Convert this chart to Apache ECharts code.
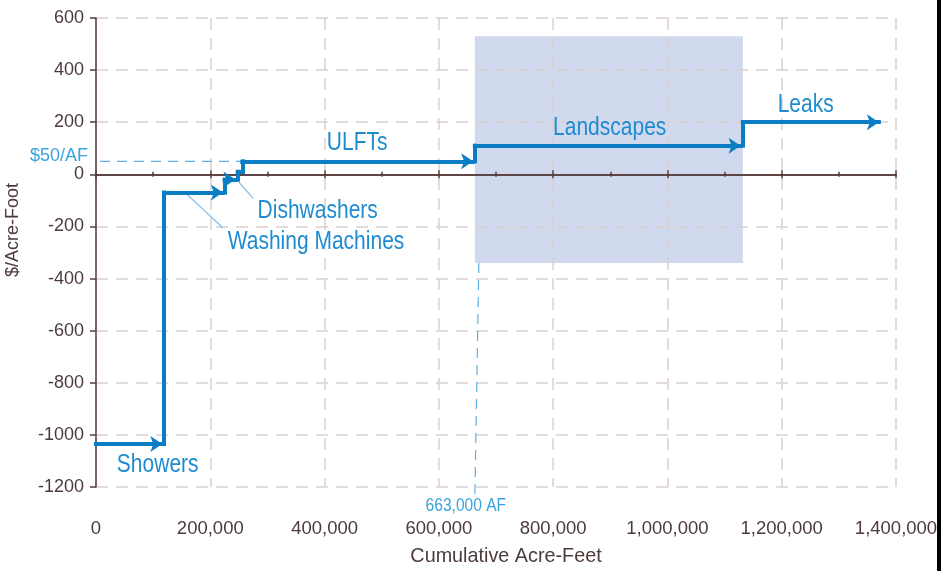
<!DOCTYPE html>
<html><head><meta charset="utf-8">
<script src="https://cdn.jsdelivr.net/npm/echarts@6/dist/echarts.min.js"></script>
<style>html,body{margin:0;padding:0;background:#fff}#c{width:941px;height:571px}</style>
</head><body><div id="c"></div>
<script>
// ---- data ----
const categories = ['Showers', 'Washing Machines', 'Dishwashers', '', 'ULFTs', 'Landscapes', 'Leaks'];
const riseX = [0, 119000, 225000, 248000, 256000, 663000, 1132000];   // cumulative AF where block starts
const endX = [116000, 222000, 244000, 256000, 660000, 1128000, 1370000]; // cumulative AF where block ends
const costs = [-1035, -70, -20, 10, 50, 110, 200];                   // $/acre-foot
const hasArrow = [true, true, true, false, true, true, true];
const xTickValues = [0, 200000, 400000, 600000, 800000, 1000000, 1200000, 1400000];
const yTickValues = [-1200, -1000, -800, -600, -400, -200, 0, 200, 400, 600];
const shadeX = [663000, 1132000];
const shadeY = [-340, 530];
const targetCost = 50;      // $50/AF
const targetAF = 663000;    // 663,000 AF
// annotation anchors (data units)
const labelX = [108000, 385000, 388000, null, 457000, 899000, 1242000];
const labelY = [-1117, -261, -142, null, 119, 176, 265];
const leaderLines = [[156000, -70, 222000, -205], [247000, -22, 275000, -92]];

// ---- styles ----
const AXIS = '#553c3c';
const TXT = '#4d3b3b';
const GRID = '#dacfcf';
const LINE = '#0b7dc4';
const LBL = '#1f8bd0';
const REF = '#5fb0e6';
const SANS = '"Liberation Sans", Arial, sans-serif';

const segData = [];
for (let i = 0; i < categories.length; i++) {
  if (i > 0) segData.push({ coords: [[riseX[i], costs[i - 1]], [riseX[i], costs[i]]], symbol: ['none', 'none'] });
  segData.push({ coords: [[riseX[i], costs[i]], [endX[i], costs[i]]], symbol: ['none', hasArrow[i] ? 'arrow' : 'none'] });
}

const xMin = xTickValues[0], xMax = xTickValues[xTickValues.length - 1];
const yMin = yTickValues[0], yMax = yTickValues[yTickValues.length - 1];
const yBelow = yMin - 32; // reference line extends a little below axis

const chart = echarts.init(document.getElementById('c'));
const baseX = { type: 'value', min: xMin, max: xMax, position: 'bottom' };
chart.setOption({
  animation: false,
  grid: { left: 96, right: 45, top: 18, bottom: 84, containLabel: false },
  xAxis: [
    Object.assign({}, baseX, {
      interval: 200000,
      axisLine: { show: false, onZero: false },
      axisTick: { show: false },
      axisLabel: { margin: 32, fontSize: 18.5, color: TXT, fontFamily: SANS,
        formatter: v => v.toLocaleString('en-US') },
      splitLine: { show: true, lineStyle: { color: GRID, width: 1.5, type: [12, 8] } }
    }),
    Object.assign({}, baseX, {
      interval: 200000,
      axisLine: { show: true, onZero: true, onZeroAxisIndex: 0, lineStyle: { color: AXIS, width: 1.5 } },
      axisTick: { show: true, inside: true, length: 4, lineStyle: { color: AXIS, width: 1.5 } },
      minorTick: { show: true, splitNumber: 2, length: 2.5, lineStyle: { color: AXIS, width: 1.5 } },
      axisLabel: { show: false }, splitLine: { show: false }
    }),
    Object.assign({}, baseX, {
      interval: 200000,
      axisLine: { show: true, onZero: true, onZeroAxisIndex: 1, lineStyle: { color: AXIS, width: 1.5 } },
      axisTick: { show: true, inside: false, length: 4, lineStyle: { color: AXIS, width: 1.5 } },
      minorTick: { show: true, splitNumber: 2, length: 2.5, lineStyle: { color: AXIS, width: 1.5 } },
      axisLabel: { show: false }, splitLine: { show: false }
    })
  ],
  yAxis: [{
    type: 'value', min: yMin, max: yMax, interval: 200,
    axisLine: { show: true, onZero: false, lineStyle: { color: AXIS, width: 1.5 } },
    axisTick: { show: true, length: 6, lineStyle: { color: AXIS, width: 1.5 } },
    axisLabel: { margin: 12, fontSize: 18, color: TXT, fontFamily: SANS, formatter: v => String(v) },
    splitLine: { show: true, lineStyle: { color: GRID, width: 1.5, type: [12, 8] } }
  }, {
    type: 'value', min: yMin, max: yMax, interval: 200, position: 'left',
    axisLine: { show: false, onZero: false }, axisTick: { show: false },
    axisLabel: { show: false }, splitLine: { show: false }
  }],
  graphic: [
    { type: 'text', x: 13, y: 230, rotation: Math.PI / 2,
      style: { text: '$/Acre-Foot', align: 'center', verticalAlign: 'middle', fontSize: 18, fontFamily: SANS, fill: TXT } },
    { type: 'text', x: 506, y: 557,
      style: { text: 'Cumulative Acre-Feet', align: 'center', verticalAlign: 'middle', fontSize: 19.8, fontFamily: SANS, fill: TXT } },
    { type: 'rect', shape: { x: 937, y: 0, width: 4, height: 571 }, style: { fill: '#000' } }
  ],
  series: [
    { // shaded landscapes range
      type: 'custom', z: -1, silent: true,
      data: [[shadeX[0], shadeX[1], shadeY[0], shadeY[1]]],
      renderItem: (p, api) => {
        const a = api.coord([api.value(0), api.value(3)]);
        const b = api.coord([api.value(1), api.value(2)]);
        return { type: 'rect', shape: { x: a[0], y: a[1], width: b[0] - a[0], height: b[1] - a[1] },
          style: { fill: '#d0d9ee' } };
      }
    },
    { // reference dashed lines
      type: 'custom', silent: true, clip: false,
      data: [[xMin, targetCost, 256000, targetCost], [targetAF, shadeY[0], targetAF, yBelow]],
      renderItem: (p, api) => {
        const a = api.coord([api.value(0), api.value(1)]);
        const b = api.coord([api.value(2), api.value(3)]);
        return { type: 'line', shape: { x1: a[0] + 4, y1: a[1], x2: b[0], y2: b[1] },
          style: { stroke: REF, lineWidth: 1.2, lineDash: [10, 7] } };
      }
    },
    { // leader lines
      type: 'custom', silent: true, clip: false,
      data: leaderLines,
      renderItem: (p, api) => {
        const a = api.coord([api.value(0), api.value(1)]);
        const b = api.coord([api.value(2), api.value(3)]);
        return { type: 'line', shape: { x1: a[0], y1: a[1], x2: b[0], y2: b[1] },
          style: { stroke: '#7dbde6', lineWidth: 1.2 } };
      }
    },
    { // step curve
      type: 'lines', coordinateSystem: 'cartesian2d', silent: true,
      symbolSize: 12,
      lineStyle: { color: LINE, width: 4, opacity: 1, cap: 'square' },
      data: segData
    },
    { // block labels
      type: 'custom', silent: true, clip: false,
      data: categories.map((c, i) => [labelX[i], labelY[i], i]).filter(d => d[0] !== null),
      renderItem: (p, api) => {
        const pt = api.coord([api.value(0), api.value(1)]);
        return { type: 'text', x: pt[0], y: pt[1], scaleX: 0.84,
          style: { text: categories[api.value(2)], align: 'center', verticalAlign: 'middle',
            fontSize: 25, fontFamily: SANS, fill: LBL } };
      }
    },
    { // reference labels
      type: 'custom', silent: true, clip: false,
      data: [[xMin, targetCost, 0], [targetAF, yMin, 1]],
      renderItem: (p, api) => {
        const pt = api.coord([api.value(0), api.value(1)]);
        if (api.value(2) === 0) {
          return { type: 'text', x: pt[0] - 8, y: pt[1] - 5,
            style: { text: '$' + targetCost + '/AF', align: 'right', verticalAlign: 'middle',
              fontSize: 18, fontFamily: SANS, fill: '#3aa3df' } };
        }
        return { type: 'text', x: pt[0] - 9, y: pt[1] + 19, scaleX: 0.82,
          style: { text: targetAF.toLocaleString('en-US') + ' AF', align: 'center', verticalAlign: 'middle',
            fontSize: 19, fontFamily: SANS, fill: '#3aa3df' } };
      }
    }
  ]
});
</script></body></html>
